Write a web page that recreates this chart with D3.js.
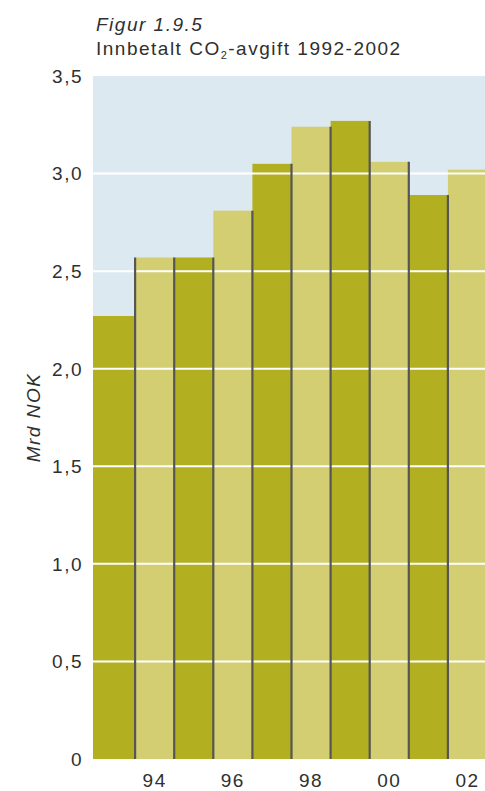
<!DOCTYPE html>
<html>
<head>
<meta charset="utf-8">
<script src="https://cdn.jsdelivr.net/npm/d3@7"></script>
<style>
  html, body { margin: 0; padding: 0; background: #ffffff; }
  svg { display: block; }
  text { font-family: "Liberation Sans", Arial, sans-serif; fill: #2f2f2f; letter-spacing: 1.5px; }
</style>
</head>
<body>
<svg id="chart" width="485" height="791"></svg>
<script>
// Innbetalt CO2-avgift, milliarder kroner
const years = [1993, 1994, 1995, 1996, 1997, 1998, 1999, 2000, 2001, 2002];
const values = [2.27, 2.57, 2.57, 2.81, 3.05, 3.24, 3.27, 3.06, 2.89, 3.02];
const yTicks = [0, 0.5, 1.0, 1.5, 2.0, 2.5, 3.0, 3.5];
const xTickYears = [1994, 1996, 1998, 2000, 2002];
const xTickLabels = ["94", "96", "98", "00", "02"];

const svg = d3.select("#chart");
const W = 485, H = 791;

const plotLeft = 93, plotTop = 76, plotBottom = 759;

const x = d3.scaleBand().domain(years).range([96, 487]).padding(0);
const y = d3.scaleLinear().domain([0, 3.5]).range([plotBottom, plotTop]);

const darkFill = "#b2af21";
const lightFill = "#d2ce71";
const edgeColor = "#565656";

// plot background
svg.append("rect")
  .attr("x", plotLeft).attr("y", y(3.5))
  .attr("width", W - plotLeft).attr("height", y(0) - y(3.5))
  .attr("fill", "#dde9f1");

// bars, alternating colours
svg.append("g").selectAll("rect")
  .data(years)
  .join("rect")
  .attr("x", (d, i) => i === 0 ? plotLeft : x(d))
  .attr("y", (d, i) => y(values[i]))
  .attr("width", (d, i) => i === 0 ? x(d) + x.bandwidth() - plotLeft : x.bandwidth())
  .attr("height", (d, i) => y(0) - y(values[i]))
  .attr("fill", (d, i) => i % 2 === 0 ? darkFill : lightFill);

// white gridlines across the plot
svg.append("g").selectAll("line")
  .data(yTicks.filter(t => t > 0 && t < 3.5))
  .join("line")
  .attr("x1", plotLeft).attr("x2", W)
  .attr("y1", d => y(d)).attr("y2", d => y(d))
  .attr("stroke", "#ffffff").attr("stroke-width", 2);

// dark bar edges
const edges = [];
years.forEach((d, i) => {
  if (i === 0) return;
  if (i === 1) edges.push({ xPos: x(d), v: values[i] });
  edges.push({ xPos: x(d) + x.bandwidth(), v: values[i] });
});
svg.append("g").selectAll("line")
  .data(edges)
  .join("line")
  .attr("x1", d => d.xPos).attr("x2", d => d.xPos)
  .attr("y1", d => y(d.v)).attr("y2", y(0))
  .attr("stroke", edgeColor).attr("stroke-width", 2.2);

// y axis labels
const fmt = d => d === 0 ? "0" : d3.format(".1f")(d).replace(".", ",");
svg.append("g").selectAll("text")
  .data(yTicks)
  .join("text")
  .attr("x", 83)
  .attr("y", d => y(d))
  .attr("dy", "0.36em")
  .attr("text-anchor", "end")
  .attr("font-size", 19)
  .text(fmt);

// x axis labels
svg.append("g").selectAll("text")
  .data(xTickYears)
  .join("text")
  .attr("x", d => x(d) + x.bandwidth() / 2)
  .attr("y", 787)
  .attr("text-anchor", "middle")
  .attr("font-size", 19)
  .text((d, i) => xTickLabels[i]);

// y axis title
svg.append("text")
  .attr("transform", `translate(40, ${(plotTop + plotBottom) / 2}) rotate(-90)`)
  .attr("text-anchor", "middle")
  .attr("font-size", 19)
  .attr("font-style", "italic")
  .text("Mrd NOK");

// figure heading
svg.append("text")
  .attr("x", 96).attr("y", 31)
  .attr("font-size", 19)
  .attr("font-style", "italic")
  .text("Figur 1.9.5");

const sub = svg.append("text")
  .attr("x", 96).attr("y", 55)
  .attr("font-size", 19);
sub.append("tspan").text("Innbetalt CO");
sub.append("tspan").attr("font-size", 11).attr("dy", 4).text("2");
sub.append("tspan").attr("dy", -4).text("-avgift 1992-2002");
</script>
</body>
</html>
